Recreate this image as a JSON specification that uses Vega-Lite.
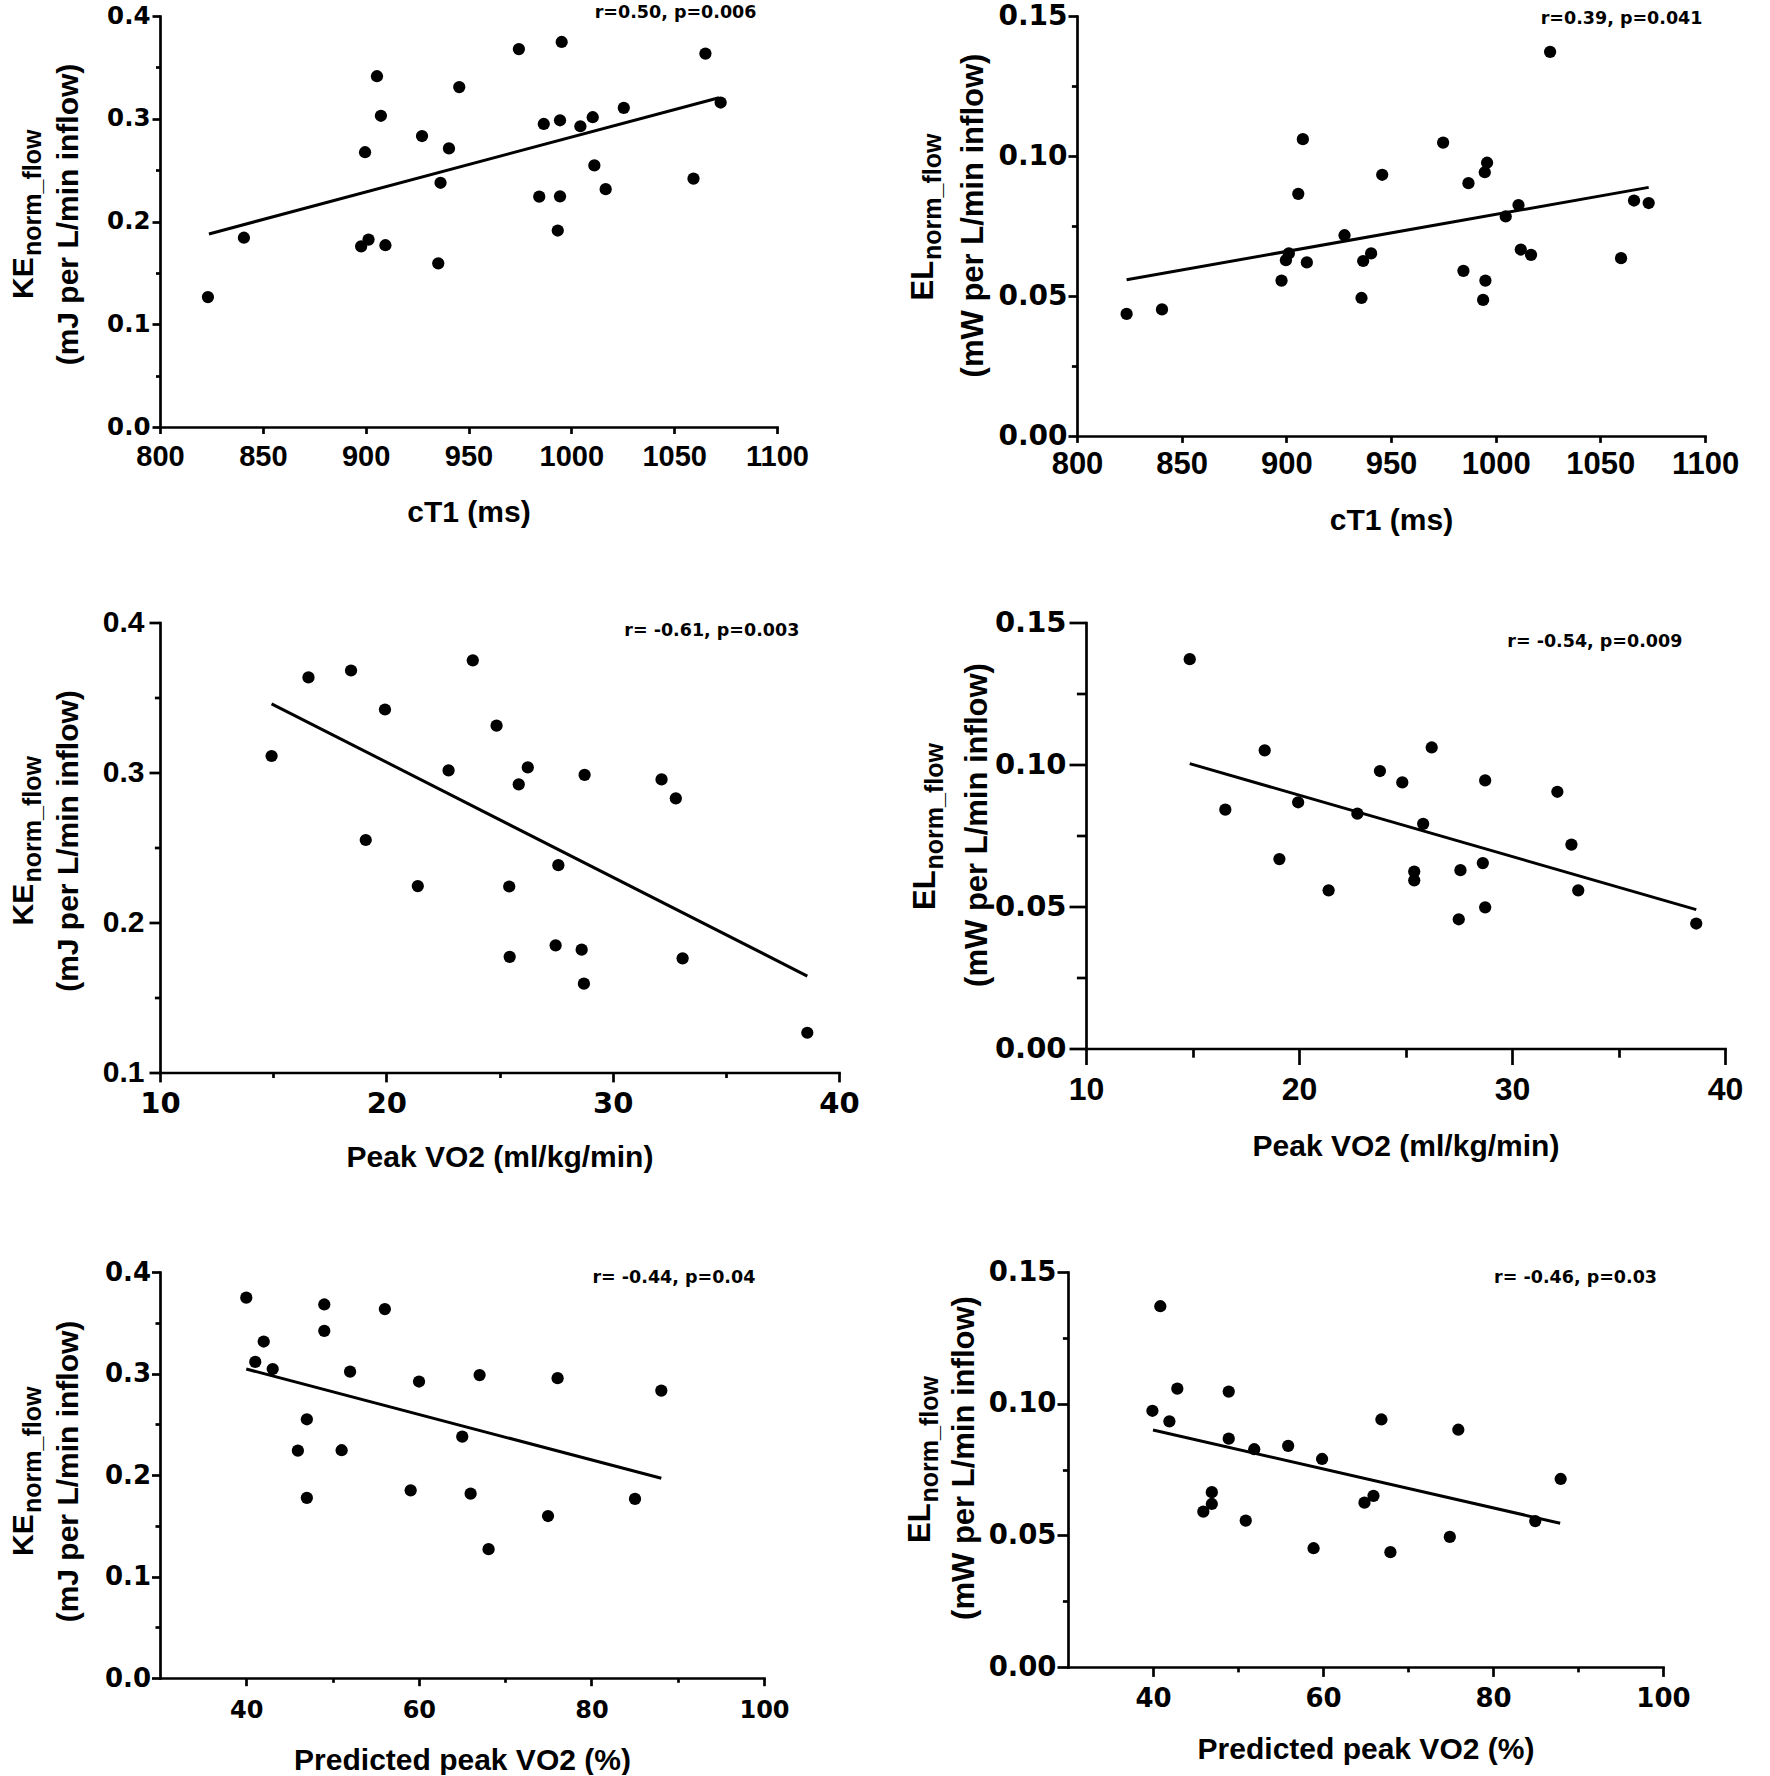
{
  "$schema": "https://vega.github.io/schema/vega-lite/v6.json",
  "background": "white",
  "padding": {"left": 8, "top": 2, "right": 5, "bottom": 0},
  "spacing": 71.5,
  "config": {
    "view": {"stroke": null},
    "axis": {
      "grid": false,
      "domainColor": "black",
      "domainWidth": 2.7,
      "domainCap": "square",
      "tickColor": "black",
      "tickWidth": 2.7,
      "labelColor": "black",
      "labelFont": "Liberation Sans",
      "labelFontWeight": "bold",
      "titleFont": "Liberation Sans",
      "titleFontWeight": "bold",
      "titleColor": "black",
      "titleBaseline": "alphabetic",
      "labelFlush": false,
      "labelOverlap": false,
      "labelBound": false
    }
  },
  "vconcat": [
    {
      "bounds": "flush",
      "spacing": 300,
      "hconcat": [
        {
          "width": 617,
          "height": 411,
          "resolve": {"scale": {"x": "independent", "y": "independent"}, "axis": {"x": "independent", "y": "independent"}},
          "layer": [
            {
              "data": {"values": [
                {"x": 823.3, "y": 0.1264}, {"x": 840.8, "y": 0.1842}, {"x": 897.8, "y": 0.1758}, {"x": 901.4, "y": 0.1824},
                {"x": 909.6, "y": 0.1769}, {"x": 899.7, "y": 0.2674}, {"x": 905.5, "y": 0.3414}, {"x": 907.4, "y": 0.3029},
                {"x": 927.4, "y": 0.2832}, {"x": 935.3, "y": 0.1593}, {"x": 936.4, "y": 0.2377}, {"x": 940.5, "y": 0.2711},
                {"x": 945.5, "y": 0.3308}, {"x": 974.5, "y": 0.3678}, {"x": 984.4, "y": 0.2242}, {"x": 986.6, "y": 0.2949},
                {"x": 993.4, "y": 0.1912}, {"x": 994.5, "y": 0.2245}, {"x": 994.5, "y": 0.2985}, {"x": 995.3, "y": 0.3747},
                {"x": 1004.4, "y": 0.2927}, {"x": 1010.4, "y": 0.3015}, {"x": 1011.2, "y": 0.2546}, {"x": 1016.7, "y": 0.2315},
                {"x": 1025.5, "y": 0.3106}, {"x": 1059.4, "y": 0.2418}, {"x": 1065.2, "y": 0.3634}, {"x": 1072.6, "y": 0.3158}
              ]},
              "mark": {"type": "circle", "size": 150, "color": "black", "opacity": 1},
              "encoding": {
                "x": {"field": "x", "type": "quantitative", "scale": {"domain": [800, 1100], "nice": false, "zero": false},
                  "axis": {"title": "cT1 (ms)", "orient": "bottom", "values": [800, 850, 900, 950, 1000, 1050, 1100], "format": "d", "tickSize": 6.5, "labelFontSize": 29, "labelPadding": 9.4, "titleFontSize": 30, "titleY": 94.5}},
                "y": {"field": "y", "type": "quantitative", "scale": {"domain": [0, 0.4], "nice": false, "zero": false},
                  "axis": {"title": "(mJ per L/min inflow)", "orient": "left", "values": [0, 0.1, 0.2, 0.3, 0.4], "format": ".1f", "tickSize": 8, "labelFont": "DejaVu Sans", "labelFontSize": 24.5, "labelPadding": 2, "titleFontSize": 30, "titleAngle": 270, "titleAlign": "center", "titleX": -83, "titleY": 198}}
              }
            },
            {
              "data": {"values": [{"x": 823.8, "y": 0.1879}, {"x": 1071.8, "y": 0.3205}]},
              "mark": {"type": "line", "color": "black", "strokeWidth": 3},
              "encoding": {
                "x": {"field": "x", "type": "quantitative", "scale": {"domain": [800, 1100], "nice": false, "zero": false}, "axis": null},
                "y": {"field": "y", "type": "quantitative", "scale": {"domain": [0, 0.4], "nice": false, "zero": false},
                  "axis": {"title": "KE", "orient": "left", "values": [0.05, 0.15, 0.25, 0.35], "domain": false, "labels": false, "tickSize": 4.5, "titleFontSize": 30, "titleAngle": 270, "titleAlign": "left", "titleX": -128, "titleY": 282.5}}
              }
            },
            {
              "data": {"values": [{"x": 1090, "y": 0.4032, "label": "r=0.50, p=0.006"}]},
              "mark": {"type": "text", "align": "right", "baseline": "middle", "font": "DejaVu Sans", "fontWeight": "bold", "fontSize": 17.5, "color": "black"},
              "encoding": {
                "x": {"field": "x", "type": "quantitative", "scale": {"domain": [800, 1100], "nice": false, "zero": false}, "axis": null},
                "y": {"field": "y", "type": "quantitative", "scale": {"domain": [0, 0.4], "nice": false, "zero": false},
                  "axis": {"title": "norm_flow", "orient": "left", "domain": false, "labels": false, "ticks": false, "titleFontSize": 25, "titleAngle": 270, "titleAlign": "left", "titleX": -120, "titleY": 239.5}},
                "text": {"field": "label"}
              }
            }
          ]
        },
        {
          "width": 628,
          "height": 420,
          "resolve": {"scale": {"x": "independent", "y": "independent"}, "axis": {"x": "independent", "y": "independent"}},
          "layer": [
            {
              "data": {"values": [
                {"x": 823.7, "y": 0.0436}, {"x": 840.6, "y": 0.0452}, {"x": 897.7, "y": 0.0555}, {"x": 899.8, "y": 0.0628},
                {"x": 901.2, "y": 0.0652}, {"x": 905.7, "y": 0.0865}, {"x": 907.9, "y": 0.1060}, {"x": 909.8, "y": 0.0620},
                {"x": 927.8, "y": 0.0717}, {"x": 935.9, "y": 0.0493}, {"x": 936.7, "y": 0.0625}, {"x": 940.5, "y": 0.0652},
                {"x": 945.8, "y": 0.0933}, {"x": 974.9, "y": 0.1048}, {"x": 984.6, "y": 0.0590}, {"x": 987.0, "y": 0.0903},
                {"x": 994.0, "y": 0.0486}, {"x": 995.1, "y": 0.0555}, {"x": 994.8, "y": 0.0942}, {"x": 995.9, "y": 0.0976},
                {"x": 1004.8, "y": 0.0784}, {"x": 1010.9, "y": 0.0825}, {"x": 1012.0, "y": 0.0666}, {"x": 1016.9, "y": 0.0647},
                {"x": 1026.0, "y": 0.1372}, {"x": 1059.9, "y": 0.0635}, {"x": 1066.1, "y": 0.0841}, {"x": 1073.1, "y": 0.0832}
              ]},
              "mark": {"type": "circle", "size": 150, "color": "black", "opacity": 1},
              "encoding": {
                "x": {"field": "x", "type": "quantitative", "scale": {"domain": [800, 1100], "nice": false, "zero": false},
                  "axis": {"title": "cT1 (ms)", "orient": "bottom", "values": [800, 850, 900, 950, 1000, 1050, 1100], "format": "d", "tickSize": 6.4, "labelFontSize": 31, "labelPadding": 7.3, "titleFontSize": 30, "titleY": 93.5}},
                "y": {"field": "y", "type": "quantitative", "scale": {"domain": [0, 0.15], "nice": false, "zero": false},
                  "axis": {"title": "(mW per L/min inflow)", "orient": "left", "values": [0, 0.05, 0.1, 0.15], "format": ".2f", "tickSize": 9, "labelFont": "DejaVu Sans", "labelFontSize": 28, "labelPadding": 1, "titleFontSize": 31, "titleAngle": 270, "titleAlign": "center", "titleX": -95, "titleY": 199}}
              }
            },
            {
              "data": {"values": [{"x": 823.7, "y": 0.0558}, {"x": 1073.1, "y": 0.0888}]},
              "mark": {"type": "line", "color": "black", "strokeWidth": 3},
              "encoding": {
                "x": {"field": "x", "type": "quantitative", "scale": {"domain": [800, 1100], "nice": false, "zero": false}, "axis": null},
                "y": {"field": "y", "type": "quantitative", "scale": {"domain": [0, 0.15], "nice": false, "zero": false},
                  "axis": {"title": "EL", "orient": "left", "values": [0.025, 0.075, 0.125], "domain": false, "labels": false, "tickSize": 5.6, "titleFontSize": 31, "titleAngle": 270, "titleAlign": "left", "titleX": -145, "titleY": 284}}
              }
            },
            {
              "data": {"values": [{"x": 1098.8, "y": 0.1489, "label": "r=0.39, p=0.041"}]},
              "mark": {"type": "text", "align": "right", "baseline": "middle", "font": "DejaVu Sans", "fontWeight": "bold", "fontSize": 17.5, "color": "black"},
              "encoding": {
                "x": {"field": "x", "type": "quantitative", "scale": {"domain": [800, 1100], "nice": false, "zero": false}, "axis": null},
                "y": {"field": "y", "type": "quantitative", "scale": {"domain": [0, 0.15], "nice": false, "zero": false},
                  "axis": {"title": "norm_flow", "orient": "left", "domain": false, "labels": false, "ticks": false, "titleFontSize": 25, "titleAngle": 270, "titleAlign": "left", "titleX": -137, "titleY": 243.5}},
                "text": {"field": "label"}
              }
            }
          ]
        }
      ]
    },
    {
      "spacing": 85.5,
      "vconcat": [
        {
          "bounds": "flush",
          "spacing": 247,
          "hconcat": [
            {
              "width": 679,
              "height": 450,
              "resolve": {"scale": {"x": "independent", "y": "independent"}, "axis": {"x": "independent", "y": "independent"}},
              "layer": [
                {
                  "data": {"values": [
                    {"x": 14.93, "y": 0.3110}, {"x": 16.56, "y": 0.3634}, {"x": 18.44, "y": 0.3680}, {"x": 19.09, "y": 0.2550},
                    {"x": 19.94, "y": 0.3420}, {"x": 21.39, "y": 0.2243}, {"x": 22.75, "y": 0.3014}, {"x": 23.82, "y": 0.3748},
                    {"x": 24.87, "y": 0.3312}, {"x": 25.43, "y": 0.2240}, {"x": 25.45, "y": 0.1771}, {"x": 25.85, "y": 0.2921},
                    {"x": 26.25, "y": 0.3034}, {"x": 27.48, "y": 0.1847}, {"x": 27.60, "y": 0.2382}, {"x": 28.63, "y": 0.1819},
                    {"x": 28.73, "y": 0.1592}, {"x": 28.76, "y": 0.2984}, {"x": 32.16, "y": 0.2954}, {"x": 32.79, "y": 0.2828},
                    {"x": 33.09, "y": 0.1761}, {"x": 38.60, "y": 0.1265}
                  ]},
                  "mark": {"type": "circle", "size": 150, "color": "black", "opacity": 1},
                  "encoding": {
                    "x": {"field": "x", "type": "quantitative", "scale": {"domain": [10, 40], "nice": false, "zero": false},
                      "axis": {"title": "Peak VO2 (ml/kg/min)", "orient": "bottom", "values": [10, 20, 30, 40], "format": "d", "tickSize": 9.4, "labelFont": "DejaVu Sans", "labelFontSize": 29, "labelPadding": 7.3, "titleFontSize": 30, "titleY": 93.5}},
                    "y": {"field": "y", "type": "quantitative", "scale": {"domain": [0.1, 0.4], "nice": false, "zero": false},
                      "axis": {"title": "(mJ per L/min inflow)", "orient": "left", "values": [0.1, 0.2, 0.3, 0.4], "format": ".1f", "tickSize": 11, "labelFontSize": 30, "labelPadding": 5, "titleFontSize": 30, "titleAngle": 270, "titleAlign": "center", "titleX": -83, "titleY": 218}}
                  }
                },
                {
                  "data": {"values": [{"x": 14.93, "y": 0.3458}, {"x": 38.60, "y": 0.1643}]},
                  "mark": {"type": "line", "color": "black", "strokeWidth": 3},
                  "encoding": {
                    "x": {"field": "x", "type": "quantitative", "scale": {"domain": [10, 40], "nice": false, "zero": false},
                      "axis": {"title": null, "orient": "bottom", "values": [15, 25, 35], "domain": false, "labels": false, "tickSize": 5}},
                    "y": {"field": "y", "type": "quantitative", "scale": {"domain": [0.1, 0.4], "nice": false, "zero": false},
                      "axis": {"title": "KE", "orient": "left", "values": [0.15, 0.25, 0.35], "domain": false, "labels": false, "tickSize": 5.6, "titleFontSize": 30, "titleAngle": 270, "titleAlign": "left", "titleX": -128, "titleY": 302.5}}
                  }
                },
                {
                  "data": {"values": [{"x": 38.25, "y": 0.3942, "label": "r= -0.61, p=0.003"}]},
                  "mark": {"type": "text", "align": "right", "baseline": "middle", "font": "DejaVu Sans", "fontWeight": "bold", "fontSize": 17.5, "color": "black"},
                  "encoding": {
                    "x": {"field": "x", "type": "quantitative", "scale": {"domain": [10, 40], "nice": false, "zero": false}, "axis": null},
                    "y": {"field": "y", "type": "quantitative", "scale": {"domain": [0.1, 0.4], "nice": false, "zero": false},
                      "axis": {"title": "norm_flow", "orient": "left", "domain": false, "labels": false, "ticks": false, "titleFontSize": 25, "titleAngle": 270, "titleAlign": "left", "titleX": -120, "titleY": 259.5}},
                    "text": {"field": "label"}
                  }
                }
              ]
            },
            {
              "width": 639,
              "height": 426,
              "resolve": {"scale": {"x": "independent", "y": "independent"}, "axis": {"x": "independent", "y": "independent"}},
              "layer": [
                {
                  "data": {"values": [
                    {"x": 14.87, "y": 0.1371}, {"x": 16.54, "y": 0.0841}, {"x": 18.39, "y": 0.1050}, {"x": 19.08, "y": 0.0667},
                    {"x": 19.96, "y": 0.0867}, {"x": 21.39, "y": 0.0557}, {"x": 22.74, "y": 0.0827}, {"x": 23.80, "y": 0.0977},
                    {"x": 24.85, "y": 0.0937}, {"x": 25.41, "y": 0.0623}, {"x": 25.41, "y": 0.0592}, {"x": 25.83, "y": 0.0791},
                    {"x": 26.23, "y": 0.1060}, {"x": 27.50, "y": 0.0455}, {"x": 27.58, "y": 0.0628}, {"x": 28.63, "y": 0.0653},
                    {"x": 28.74, "y": 0.0497}, {"x": 28.74, "y": 0.0944}, {"x": 32.13, "y": 0.0904}, {"x": 32.79, "y": 0.0718},
                    {"x": 33.11, "y": 0.0557}, {"x": 38.65, "y": 0.0440}
                  ]},
                  "mark": {"type": "circle", "size": 150, "color": "black", "opacity": 1},
                  "encoding": {
                    "x": {"field": "x", "type": "quantitative", "scale": {"domain": [10, 40], "nice": false, "zero": false},
                      "axis": {"title": "Peak VO2 (ml/kg/min)", "orient": "bottom", "values": [10, 20, 30, 40], "format": "d", "tickSize": 16, "labelFontSize": 32, "labelPadding": 10.4, "titleFontSize": 30, "titleY": 106.5}},
                    "y": {"field": "y", "type": "quantitative", "scale": {"domain": [0, 0.15], "nice": false, "zero": false},
                      "axis": {"title": "(mW per L/min inflow)", "orient": "left", "values": [0, 0.05, 0.1, 0.15], "format": ".2f", "tickSize": 17, "labelFont": "DejaVu Sans", "labelFontSize": 29, "labelPadding": 3, "titleFontSize": 31, "titleAngle": 270, "titleAlign": "center", "titleX": -100, "titleY": 202}}
                  }
                },
                {
                  "data": {"values": [{"x": 14.87, "y": 0.1003}, {"x": 38.65, "y": 0.0489}]},
                  "mark": {"type": "line", "color": "black", "strokeWidth": 3},
                  "encoding": {
                    "x": {"field": "x", "type": "quantitative", "scale": {"domain": [10, 40], "nice": false, "zero": false},
                      "axis": {"title": null, "orient": "bottom", "values": [15, 25, 35], "domain": false, "labels": false, "tickSize": 8.7}},
                    "y": {"field": "y", "type": "quantitative", "scale": {"domain": [0, 0.15], "nice": false, "zero": false},
                      "axis": {"title": "EL", "orient": "left", "values": [0.025, 0.075, 0.125], "domain": false, "labels": false, "tickSize": 9.6, "titleFontSize": 31, "titleAngle": 270, "titleAlign": "left", "titleX": -152, "titleY": 287}}
                  }
                },
                {
                  "data": {"values": [{"x": 38.0, "y": 0.1432, "label": "r= -0.54, p=0.009"}]},
                  "mark": {"type": "text", "align": "right", "baseline": "middle", "font": "DejaVu Sans", "fontWeight": "bold", "fontSize": 17.5, "color": "black"},
                  "encoding": {
                    "x": {"field": "x", "type": "quantitative", "scale": {"domain": [10, 40], "nice": false, "zero": false}, "axis": null},
                    "y": {"field": "y", "type": "quantitative", "scale": {"domain": [0, 0.15], "nice": false, "zero": false},
                      "axis": {"title": "norm_flow", "orient": "left", "domain": false, "labels": false, "ticks": false, "titleFontSize": 25, "titleAngle": 270, "titleAlign": "left", "titleX": -144, "titleY": 246.5}},
                    "text": {"field": "label"}
                  }
                }
              ]
            }
          ]
        },
        {
          "bounds": "flush",
          "spacing": 304,
          "hconcat": [
            {
              "width": 604,
              "height": 406,
              "resolve": {"scale": {"x": "independent", "y": "independent"}, "axis": {"x": "independent", "y": "independent"}},
              "layer": [
                {
                  "data": {"values": [
                    {"x": 40.0, "y": 0.3747}, {"x": 41.04, "y": 0.3114}, {"x": 42.02, "y": 0.3315}, {"x": 43.06, "y": 0.3044},
                    {"x": 45.98, "y": 0.2240}, {"x": 47.02, "y": 0.2549}, {"x": 47.02, "y": 0.1775}, {"x": 49.04, "y": 0.3680},
                    {"x": 49.04, "y": 0.3420}, {"x": 51.05, "y": 0.2244}, {"x": 52.03, "y": 0.3018}, {"x": 56.06, "y": 0.3635},
                    {"x": 59.05, "y": 0.1849}, {"x": 60.02, "y": 0.2921}, {"x": 65.03, "y": 0.2378}, {"x": 66.0, "y": 0.1816},
                    {"x": 67.04, "y": 0.2984}, {"x": 68.08, "y": 0.1269}, {"x": 74.97, "y": 0.1596}, {"x": 76.08, "y": 0.2954},
                    {"x": 85.05, "y": 0.1764}, {"x": 88.10, "y": 0.2832}
                  ]},
                  "mark": {"type": "circle", "size": 150, "color": "black", "opacity": 1},
                  "encoding": {
                    "x": {"field": "x", "type": "quantitative", "scale": {"domain": [30, 100], "nice": false, "zero": false},
                      "axis": {"title": "Predicted peak VO2 (%)", "orient": "bottom", "values": [40, 60, 80, 100], "format": "d", "tickSize": 7.7, "labelFont": "DejaVu Sans", "labelFontSize": 24, "labelPadding": 12.9, "titleFontSize": 30, "titleY": 91}},
                    "y": {"field": "y", "type": "quantitative", "scale": {"domain": [0, 0.4], "nice": false, "zero": false},
                      "axis": {"title": "(mJ per L/min inflow)", "orient": "left", "values": [0, 0.1, 0.2, 0.3, 0.4], "format": ".1f", "tickSize": 8.5, "labelFont": "DejaVu Sans", "labelFontSize": 26, "labelPadding": 1, "titleFontSize": 30, "titleAngle": 270, "titleAlign": "center", "titleX": -83, "titleY": 199}}
                  }
                },
                {
                  "data": {"values": [{"x": 40.0, "y": 0.3044}, {"x": 88.1, "y": 0.1968}]},
                  "mark": {"type": "line", "color": "black", "strokeWidth": 3},
                  "encoding": {
                    "x": {"field": "x", "type": "quantitative", "scale": {"domain": [30, 100], "nice": false, "zero": false},
                      "axis": {"title": null, "orient": "bottom", "values": [50, 70, 90], "domain": false, "labels": false, "tickSize": 4.3}},
                    "y": {"field": "y", "type": "quantitative", "scale": {"domain": [0, 0.4], "nice": false, "zero": false},
                      "axis": {"title": "KE", "orient": "left", "values": [0.05, 0.15, 0.25, 0.35], "domain": false, "labels": false, "tickSize": 5, "titleFontSize": 30, "titleAngle": 270, "titleAlign": "left", "titleX": -128, "titleY": 283.5}}
                  }
                },
                {
                  "data": {"values": [{"x": 99.0, "y": 0.3937, "label": "r= -0.44, p=0.04"}]},
                  "mark": {"type": "text", "align": "right", "baseline": "middle", "font": "DejaVu Sans", "fontWeight": "bold", "fontSize": 17.5, "color": "black"},
                  "encoding": {
                    "x": {"field": "x", "type": "quantitative", "scale": {"domain": [30, 100], "nice": false, "zero": false}, "axis": null},
                    "y": {"field": "y", "type": "quantitative", "scale": {"domain": [0, 0.4], "nice": false, "zero": false},
                      "axis": {"title": "norm_flow", "orient": "left", "domain": false, "labels": false, "ticks": false, "titleFontSize": 25, "titleAngle": 270, "titleAlign": "left", "titleX": -120, "titleY": 240.5}},
                    "text": {"field": "label"}
                  }
                }
              ]
            },
            {
              "width": 595,
              "height": 395,
              "resolve": {"scale": {"x": "independent", "y": "independent"}, "axis": {"x": "independent", "y": "independent"}},
              "layer": [
                {
                  "data": {"values": [
                    {"x": 39.93, "y": 0.0973}, {"x": 40.86, "y": 0.1370}, {"x": 41.93, "y": 0.0933}, {"x": 42.86, "y": 0.1057},
                    {"x": 45.92, "y": 0.0590}, {"x": 46.92, "y": 0.0664}, {"x": 46.92, "y": 0.0619}, {"x": 48.91, "y": 0.1046},
                    {"x": 48.91, "y": 0.0867}, {"x": 50.91, "y": 0.0556}, {"x": 51.91, "y": 0.0827}, {"x": 55.90, "y": 0.0840},
                    {"x": 58.89, "y": 0.0451}, {"x": 59.89, "y": 0.0790}, {"x": 64.88, "y": 0.0624}, {"x": 65.94, "y": 0.0650},
                    {"x": 66.87, "y": 0.0940}, {"x": 67.93, "y": 0.0436}, {"x": 74.92, "y": 0.0494}, {"x": 75.92, "y": 0.0901},
                    {"x": 84.97, "y": 0.0554}, {"x": 87.96, "y": 0.0714}
                  ]},
                  "mark": {"type": "circle", "size": 150, "color": "black", "opacity": 1},
                  "encoding": {
                    "x": {"field": "x", "type": "quantitative", "scale": {"domain": [30, 100], "nice": false, "zero": false},
                      "axis": {"title": "Predicted peak VO2 (%)", "orient": "bottom", "values": [40, 60, 80, 100], "format": "d", "tickSize": 9.4, "labelFont": "DejaVu Sans", "labelFontSize": 26, "labelPadding": 9.2, "titleFontSize": 30, "titleY": 91.5}},
                    "y": {"field": "y", "type": "quantitative", "scale": {"domain": [0, 0.15], "nice": false, "zero": false},
                      "axis": {"title": "(mW per L/min inflow)", "orient": "left", "values": [0, 0.05, 0.1, 0.15], "format": ".2f", "tickSize": 11, "labelFont": "DejaVu Sans", "labelFontSize": 27.5, "labelPadding": 1, "titleFontSize": 31, "titleAngle": 270, "titleAlign": "center", "titleX": -95, "titleY": 185.5}}
                  }
                },
                {
                  "data": {"values": [{"x": 40.0, "y": 0.0900}, {"x": 87.9, "y": 0.0546}]},
                  "mark": {"type": "line", "color": "black", "strokeWidth": 3},
                  "encoding": {
                    "x": {"field": "x", "type": "quantitative", "scale": {"domain": [30, 100], "nice": false, "zero": false},
                      "axis": {"title": null, "orient": "bottom", "values": [50, 70, 90], "domain": false, "labels": false, "tickSize": 4.9}},
                    "y": {"field": "y", "type": "quantitative", "scale": {"domain": [0, 0.15], "nice": false, "zero": false},
                      "axis": {"title": "EL", "orient": "left", "values": [0.025, 0.075, 0.125], "domain": false, "labels": false, "tickSize": 5.6, "titleFontSize": 31, "titleAngle": 270, "titleAlign": "left", "titleX": -139, "titleY": 270.5}}
                  }
                },
                {
                  "data": {"values": [{"x": 99.3, "y": 0.1479, "label": "r= -0.46, p=0.03"}]},
                  "mark": {"type": "text", "align": "right", "baseline": "middle", "font": "DejaVu Sans", "fontWeight": "bold", "fontSize": 17.5, "color": "black"},
                  "encoding": {
                    "x": {"field": "x", "type": "quantitative", "scale": {"domain": [30, 100], "nice": false, "zero": false}, "axis": null},
                    "y": {"field": "y", "type": "quantitative", "scale": {"domain": [0, 0.15], "nice": false, "zero": false},
                      "axis": {"title": "norm_flow", "orient": "left", "domain": false, "labels": false, "ticks": false, "titleFontSize": 25, "titleAngle": 270, "titleAlign": "left", "titleX": -131, "titleY": 230}},
                    "text": {"field": "label"}
                  }
                }
              ]
            }
          ]
        }
      ]
    }
  ]
}
